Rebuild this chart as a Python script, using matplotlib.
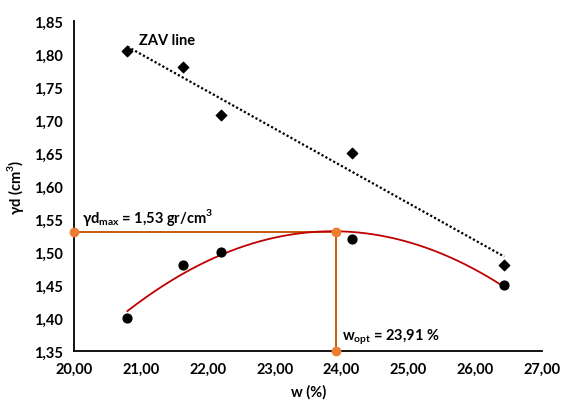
import numpy as np
import matplotlib.pyplot as plt
from matplotlib.ticker import FuncFormatter

# ── Data ─────────────────────────────────────────────────────────────────────
w_pts      = [20.80, 21.63, 22.20, 24.15, 26.43]
gd_zav     = [1.805, 1.780, 1.707, 1.650, 1.480]
gd_proctor = [1.400, 1.480, 1.500, 1.520, 1.450]

w_opt   = 23.91
gd_max  = 1.53
x_ticks = [20, 21, 22, 23, 24, 25, 26, 27]
y_ticks = [1.35, 1.40, 1.45, 1.50, 1.55, 1.60, 1.65, 1.70, 1.75, 1.80, 1.85]

plt.rcParams['font.family'] = ['Lato', 'DejaVu Sans']

fig = plt.figure(figsize=(5.68, 4.14), dpi=100)
ax = fig.add_axes([0.130, 0.150, 0.825, 0.797])

# trend lines through the measured points
xs = np.linspace(min(w_pts), max(w_pts), 200)
zav_fit = np.polyfit(w_pts, gd_zav, 1)
ax.plot(xs, np.polyval(zav_fit, xs), color='black', lw=1.6, ls=(0, (1, 1)), zorder=2)
pr_fit = np.polyfit(w_pts, gd_proctor, 2)
ax.plot(xs, np.polyval(pr_fit, xs), color='#C00000', lw=1.3, zorder=3)

# optimum guide lines
ax.plot([x_ticks[0], w_opt, w_opt], [gd_max, gd_max, y_ticks[0]],
        color='#C55A11', lw=1.4, zorder=2)
ax.plot([x_ticks[0], w_opt, w_opt], [gd_max, gd_max, y_ticks[0]],
        ls='none', marker='o', ms=6, color='#ED7D31', zorder=5, clip_on=False)

ax.scatter(w_pts, gd_zav, marker='D', s=28, color='black', zorder=4)
ax.scatter(w_pts, gd_proctor, marker='o', s=40, color='black', zorder=4)

ax.text(20.97, 1.810, 'ZAV line', fontsize=10.5, fontweight='bold', ha='left', va='bottom')
ax.text(20.12, 1.537, 'γd$_{\\mathregular{max}}$ = 1,53 gr/cm$^{\\mathregular{3}}$',
        fontsize=10.5, fontweight='bold', ha='left', va='bottom')
ax.text(24.00, 1.357, 'w$_{\\mathregular{opt}}$ = 23,91 %',
        fontsize=10.5, fontweight='bold', ha='left', va='bottom')

ax.set_xlim(x_ticks[0], x_ticks[-1])
ax.set_ylim(y_ticks[0], y_ticks[-1])
ax.set_xticks(x_ticks)
ax.set_yticks(y_ticks)
ax.xaxis.set_major_formatter(FuncFormatter(lambda v, p: f'{v:.2f}'.replace('.', ',')))
ax.yaxis.set_major_formatter(FuncFormatter(lambda v, p: f'{v:.2f}'.replace('.', ',')))
ax.tick_params(length=0, labelsize=10.5, pad=8)
for lab in ax.get_xticklabels() + ax.get_yticklabels():
    lab.set_fontweight('bold')

for s in ['top', 'right']:
    ax.spines[s].set_visible(False)
for s in ['left', 'bottom']:
    ax.spines[s].set_linewidth(1.3)

ax.set_xlabel('w (%)', fontsize=10.5, fontweight='bold', labelpad=6)
ax.set_ylabel('γd (cm$^{\\mathregular{3}}$)', fontsize=10.5, fontweight='bold', labelpad=6)

fig.savefig('out.png', dpi=100, facecolor='white')
